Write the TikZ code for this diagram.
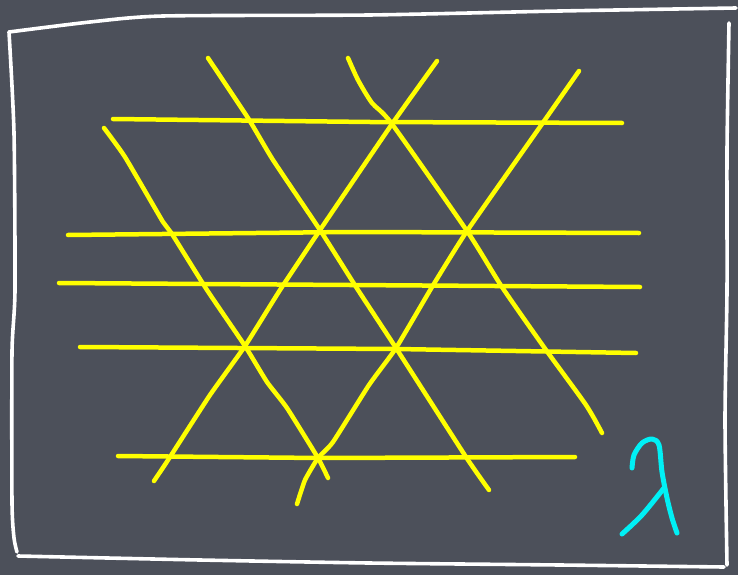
\documentclass[tikz,border=0pt]{standalone}
\definecolor{board}{RGB}{76,80,90}
\definecolor{chalkyellow}{RGB}{255,255,0}
\definecolor{chalkcyan}{RGB}{0,240,245}
\tikzset{
  latline/.style={draw=chalkyellow,line width=4.5pt,line cap=round,line join=round},
  frameline/.style={draw=white,line width=3.6pt,line cap=round,line join=round},
  lambdaline/.style={draw=chalkcyan,line width=5pt,line cap=round,line join=round}
}
\begin{document}
\begin{tikzpicture}[x=1pt,y=-1pt]
\useasboundingbox (0,0) rectangle (738,575);
\fill[board] (0,0) rectangle (738,575);
% frame
\draw[frameline] plot[smooth,tension=0.4] coordinates {(9,32) (90,22) (163,16) (369,15) (560,11) (736,8)};
\draw[frameline] plot[smooth,tension=0.4] coordinates {(9,32) (14,133) (15,290) (12,352) (12,502) (14,538) (17,552)};
\draw[frameline] plot[smooth,tension=0.4] coordinates {(18,556) (200,560) (369,563) (560,565) (724,567)};
\draw[frameline] plot[smooth,tension=0.4] coordinates {(729,23) (727,150) (727,290) (725,420) (727,565)};
% horizontal lines
\draw[latline] (113,119) -- (370,122) -- (622,123);
\draw[latline] (68,235) -- (350,232) -- (639,233);
\draw[latline] (59,283) -- (350,285) -- (640,287);
\draw[latline] (80,347) -- (396,349) -- (636,353);
\draw[latline] (118,456) -- (320,458) -- (575,457);
% down-right lines
\draw[latline] plot[smooth,tension=0.3] coordinates {(208,58) (248,118) (273,160) (320,230) (358,290) (396,348) (466,457) (489,490)};
\draw[latline] plot[smooth,tension=0.4] coordinates {(348,58) (358,80) (372,103) (392,124) (467,231) (502,287) (546,350) (586,405) (602,433)};
\draw[latline] plot[smooth,tension=0.3] coordinates {(104,128) (125,157) (163,222) (172,234) (207,290) (245,346) (267,382) (287,408) (318,458) (328,478)};
% up-right lines
\draw[latline] plot[smooth,tension=0.3] coordinates {(437,61) (392,124) (320,230) (280,290) (245,346) (210,395) (170,457) (154,481)};
\draw[latline] plot[smooth,tension=0.3] coordinates {(579,71) (542,124) (467,231) (432,287) (396,348) (369,385) (333,442) (318,458) (305,480) (297,504)};
% lambda
\draw[lambdaline] plot[smooth,tension=0.5] coordinates {(632,468) (634,455) (642,443) (652,439) (659,445) (662,472) (667,498) (672,518) (677,533)};
\draw[lambdaline] plot[smooth,tension=0.5] coordinates {(664,488) (642,515) (622,534)};
\end{tikzpicture}
\end{document}
